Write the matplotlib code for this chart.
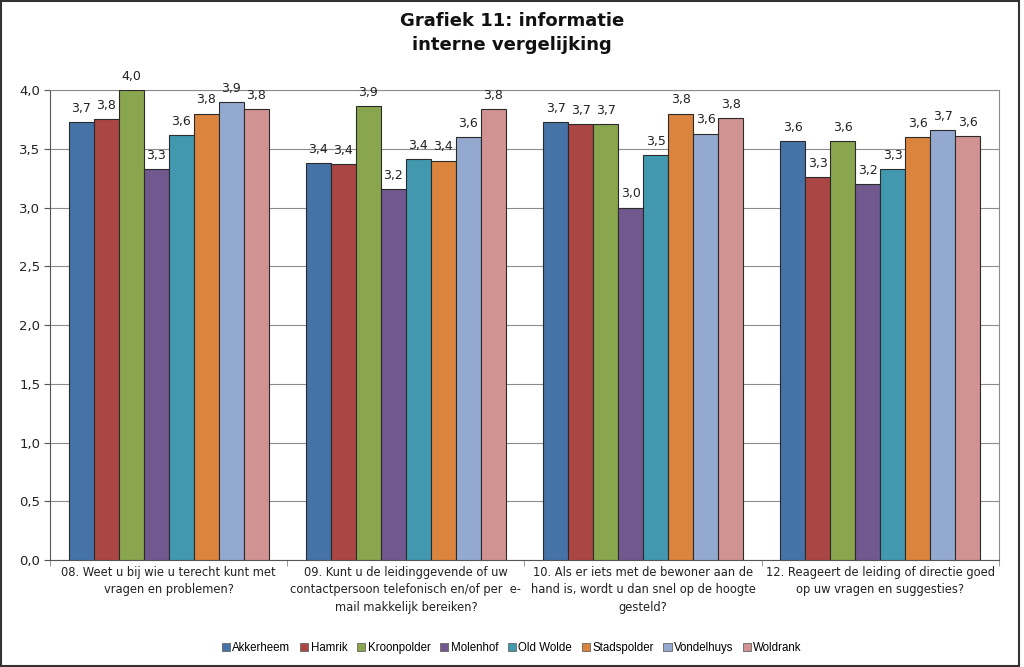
import matplotlib
matplotlib.use("Agg")
import matplotlib.pyplot as plt
from matplotlib.patches import Rectangle
from matplotlib.ticker import FuncFormatter, MultipleLocator
import numpy as np

categories = [
    "08. Weet u bij wie u terecht kunt met\nvragen en problemen?",
    "09. Kunt u de leidinggevende of uw\ncontactpersoon telefonisch en/of per  e-\nmail makkelijk bereiken?",
    "10. Als er iets met de bewoner aan de\nhand is, wordt u dan snel op de hoogte\ngesteld?",
    "12. Reageert de leiding of directie goed\nop uw vragen en suggesties?",
]
series = ["Akkerheem", "Hamrik", "Kroonpolder", "Molenhof",
          "Old Wolde", "Stadspolder", "Vondelhuys", "Woldrank"]
akkerheem = [3.73, 3.38, 3.73, 3.57]
hamrik = [3.75, 3.37, 3.71, 3.26]
kroonpolder = [4.00, 3.86, 3.71, 3.57]
molenhof = [3.33, 3.16, 3.00, 3.20]
old_wolde = [3.62, 3.41, 3.45, 3.33]
stadspolder = [3.80, 3.40, 3.80, 3.60]
vondelhuys = [3.90, 3.60, 3.63, 3.66]
woldrank = [3.84, 3.84, 3.76, 3.61]
values = [akkerheem, hamrik, kroonpolder, molenhof,
          old_wolde, stadspolder, vondelhuys, woldrank]
colors = ["#4572A7", "#AA4643", "#89A54E", "#71588F",
          "#4198AF", "#DB843D", "#93A9CF", "#D19392"]

fig = plt.figure(figsize=(10.24, 6.67), dpi=100)
ax = fig.add_axes([0.0488, 0.1604, 0.9268, 0.7046])

x = np.arange(len(categories))
w = 1 / 9.5
for i, (name, vals, c) in enumerate(zip(series, values, colors)):
    pos = x - 4 * w + (i + 0.5) * w
    bars = ax.bar(pos, vals, width=w, color=c, edgecolor="#2b2b2b",
                  linewidth=0.8, label=name, zorder=3)
    for b, v in zip(bars, vals):
        ax.text(b.get_x() + b.get_width() / 2, v + 0.06,
                f"{v:.1f}".replace(".", ","), ha="center", va="bottom",
                fontsize=9, color="#222222", zorder=4)

ax.set_xlim(-0.5, 3.5)
ax.set_ylim(0, 4.0)
ax.yaxis.set_major_locator(MultipleLocator(0.5))
ax.yaxis.set_major_formatter(FuncFormatter(lambda v, p: f"{v:.1f}".replace(".", ",")))
ax.grid(axis="y", color="#8c8c8c", linewidth=0.8, zorder=0)

ax.set_xticks(x)
ax.set_xticklabels(categories, fontsize=8.3, color="#222222", linespacing=1.45)
ax.set_xticks(np.arange(-0.5, 4.0, 1.0), minor=True)
ax.tick_params(axis="x", which="major", length=0, pad=4)
ax.tick_params(axis="x", which="minor", length=4, direction="out", color="#8c8c8c")
ax.tick_params(axis="y", length=4, direction="out", color="#555555",
               labelsize=9.5, labelcolor="#222222", pad=3)

for side in ["top", "right"]:
    ax.spines[side].set_color("#8c8c8c")
for side in ["left", "bottom"]:
    ax.spines[side].set_color("#555555")

fig.text(0.5, 0.982, "Grafiek 11: informatie\ninterne vergelijking",
         ha="center", va="top", fontsize=13, fontweight="bold",
         color="#111111", linespacing=1.4)

leg = fig.legend(loc="center", bbox_to_anchor=(0.5, 0.029), ncol=8,
                 frameon=False, handlelength=0.7, handleheight=0.7,
                 handletextpad=0.2, columnspacing=0.85,
                 prop={"family": "Liberation Sans", "size": 8.3})
for h in leg.legend_handles:
    h.set_linewidth(0.6)
    h.set_edgecolor("#666666")

fig.patches.append(Rectangle((0.001, 0.002), 0.994, 0.996, transform=fig.transFigure,
                             fill=False, edgecolor="#333333", linewidth=1.5))

fig.savefig("out.png", dpi=100)
